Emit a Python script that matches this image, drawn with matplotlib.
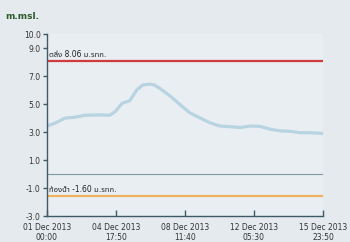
import matplotlib
matplotlib.use('Agg')
from matplotlib import pyplot as plt
import pandas as pd

plt.rcParams['font.family'] = ['DejaVu Sans', 'Noto Sans Thai', 'Noto Sans', 'Liberation Sans']

# water level readings, m.msl.
times = ['2013-12-01 00:00', '2013-12-01 10:00', '2013-12-02 00:00', '2013-12-02 12:00',
         '2013-12-03 02:00', '2013-12-03 21:00', '2013-12-04 10:00', '2013-12-04 17:00',
         '2013-12-05 02:00', '2013-12-05 12:00', '2013-12-05 21:00', '2013-12-06 05:00',
         '2013-12-06 14:00', '2013-12-06 20:00', '2013-12-07 03:00', '2013-12-07 16:00',
         '2013-12-08 05:00', '2013-12-08 18:00', '2013-12-09 07:00', '2013-12-09 20:00',
         '2013-12-10 09:00', '2013-12-10 23:00', '2013-12-11 12:00', '2013-12-12 01:00',
         '2013-12-12 14:00', '2013-12-13 03:00', '2013-12-13 16:00', '2013-12-14 05:00',
         '2013-12-14 18:00', '2013-12-15 07:00', '2013-12-15 23:50']
levels = [3.43, 3.62, 4.00, 4.05, 4.20, 4.22, 4.20, 4.45, 5.05, 5.24, 6.00, 6.36,
          6.42, 6.36, 6.12, 5.60, 4.98, 4.38, 4.02, 3.67, 3.43, 3.38, 3.32, 3.43,
          3.40, 3.20, 3.08, 3.05, 2.95, 2.95, 2.90]

bank_level = 8.06
bed_level = -1.60
zero_level = 0.0

y_ticks = [10.0, 9.0, 7.0, 5.0, 3.0, 1.0, -1.0, -3.0]
x_ticks = ['2013-12-01 00:00', '2013-12-04 17:50', '2013-12-08 11:40',
           '2013-12-12 05:30', '2013-12-15 23:50']

t = pd.to_datetime(times)
xt = pd.to_datetime(x_ticks)

fig = plt.figure(figsize=(3.5, 2.42), dpi=100, facecolor='#e4eaed')
ax = fig.add_axes([0.134, 0.1074, 0.789, 0.7521])
ax.set_facecolor('#e8eef1')

ax.axhline(bank_level, color='#d23a3c', lw=1.6)
ax.axhline(bed_level, color='#f0b25e', lw=1.6)
ax.axhline(zero_level, color='#7f9ba6', lw=0.8)
ax.plot(t, levels, color='#b8d3e1', lw=2.3, solid_capstyle='round')

ax.text(0.008, bank_level + 0.15, 'ตลิ่ง 8.06 ม.รทก.', transform=ax.get_yaxis_transform(),
        fontsize=5.5, color='#222222', va='bottom', ha='left')
ax.text(0.008, bed_level + 0.15, 'ท้องน้ำ -1.60 ม.รทก.', transform=ax.get_yaxis_transform(),
        fontsize=5.5, color='#222222', va='bottom', ha='left')

ax.set_xlim(xt[0], xt[-1])
ax.set_ylim(-3, 10)
ax.set_yticks(y_ticks)
ax.set_yticklabels(['%.1f' % v for v in y_ticks])
ax.set_xticks(xt)
ax.set_xticklabels([d.strftime('%d %b %Y\n%H:%M') for d in xt], linespacing=1.1)

for s in ['top', 'right']:
    ax.spines[s].set_visible(False)
for s in ['left', 'bottom']:
    ax.spines[s].set_color('#3d5a66')
    ax.spines[s].set_linewidth(1.0)
ax.tick_params(axis='y', direction='out', length=3, width=1, color='#3d5a66',
               labelsize=5.5, labelcolor='#333333', pad=1.5)
ax.tick_params(axis='x', direction='in', length=4, width=1, color='#3d5a66',
               labelsize=5.5, labelcolor='#333333', pad=5)

fig.text(0.015, 0.93, 'm.msl.', fontsize=6.5, fontweight='bold', color='#2f5a2a',
         ha='left', va='center')

plt.savefig('out.png', dpi=100, facecolor=fig.get_facecolor())
